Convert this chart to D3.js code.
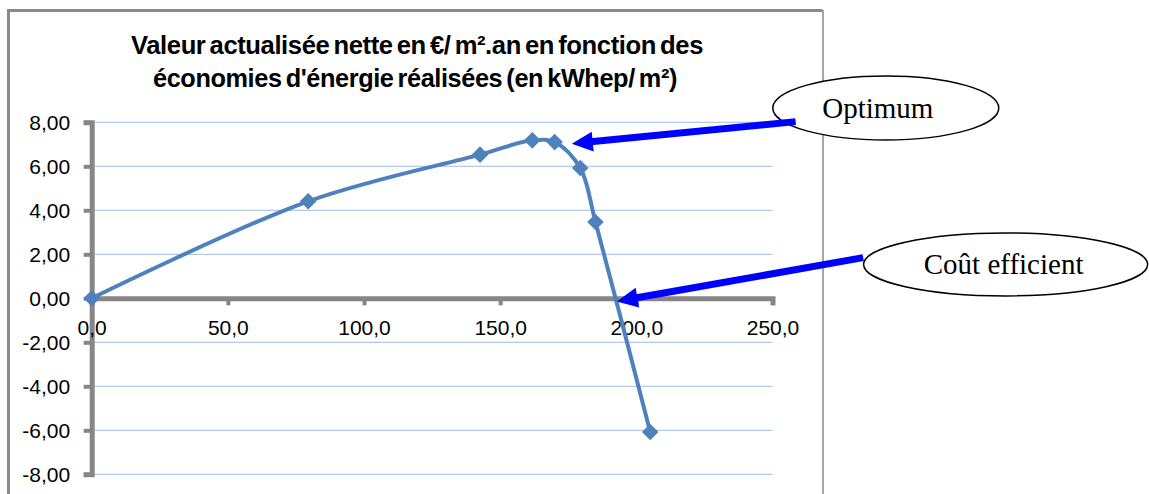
<!DOCTYPE html>
<html>
<head>
<meta charset="utf-8">
<script src="https://cdn.jsdelivr.net/npm/d3@7"></script>
<style>
  body { margin: 0; background: #fff; }
  svg { display: block; }
</style>
</head>
<body>
<div id="main"></div>
<script>
// values
const energySavings = [0, 79.5, 142.6, 161.8, 170.0, 179.4, 185.0, 205.1];
const netValue = [0, 4.41, 6.53, 7.18, 7.10, 5.92, 3.47, -6.08];
const xTicks = [0, 50, 100, 150, 200, 250];
const yTicks = [-8, -6, -4, -2, 0, 2, 4, 6, 8];
const titleLines = [
  "Valeur actualisée nette en €/ m².an en fonction des",
  "économies d'énergie réalisées (en kWhep/ m²)"
];
// callouts, in data units
const calloutLabels = ["Optimum", "Coût efficient"];
const calloutCenterX = [291.6, 335.6];
const calloutCenterY = [8.65, 1.54];
const arrowFromX = [258.5, 283.3];
const arrowFromY = [8.03, 1.85];
const arrowToX = [176.3, 192.8];
const arrowToY = [7.03, -0.14];

const W = 1149, H = 494;
const blue = "#4F81BD", gray = "#868686", grid = "#B4C8E8";

const fr = d3.formatLocale({ decimal: ",", thousands: " ", grouping: [3], currency: ["", " €"], minus: "-" });

const svg = d3.select("#main").append("svg")
  .attr("width", W)
  .attr("height", H);

// chart frame (bottom runs off the picture)
svg.append("path")
  .attr("d", "M8.5,500 V10.5 H822.5")
  .attr("fill", "none")
  .attr("stroke", "#8a8a8a")
  .attr("stroke-width", 3);
svg.append("line")
  .attr("x1", 823).attr("x2", 823)
  .attr("y1", 10).attr("y2", 500)
  .attr("stroke", "#8a8a8a")
  .attr("stroke-width", 1.5);

// title
const titleWidths = [572, 524];
const titleCenters = [417, 415];
const titleBase = [54, 86.5];
svg.selectAll(".title")
  .data(titleLines)
  .enter().append("text")
  .attr("class", "title")
  .attr("x", (d, i) => titleCenters[i])
  .attr("y", (d, i) => titleBase[i])
  .attr("text-anchor", "middle")
  .attr("textLength", (d, i) => titleWidths[i])
  .attr("lengthAdjust", "spacingAndGlyphs")
  .style("font-family", "'Liberation Sans', Arial, sans-serif")
  .style("font-weight", "bold")
  .style("font-size", "25px")
  .style("letter-spacing", "-0.4px")
  .style("word-spacing", "-2.5px")
  .text(d => d);

const x = d3.scaleLinear().domain([0, 250]).range([91.7, 772.5]);
const y = d3.scaleLinear().domain([-8, 8]).range([474.3, 122.3]);

// gridlines
svg.append("g")
  .selectAll("line")
  .data(yTicks.filter(d => d !== 0))
  .enter().append("line")
  .attr("x1", x(0)).attr("x2", x(250))
  .attr("y1", d => y(d)).attr("y2", d => y(d))
  .attr("stroke", grid)
  .attr("stroke-width", 1.2);

// y axis
const yAxis = svg.append("g")
  .attr("transform", "translate(" + x(0) + ",0)")
  .call(d3.axisLeft(y).tickValues(yTicks).tickSize(8).tickPadding(13.5).tickFormat(fr.format(".2f")));

// x axis, on the zero line
const xAxis = svg.append("g")
  .attr("transform", "translate(0," + y(0) + ")")
  .call(d3.axisBottom(x).tickValues(xTicks).tickSize(7).tickSizeOuter(7).tickPadding(15).tickFormat(fr.format(".1f")));

[yAxis, xAxis].forEach(a => {
  a.select(".domain").attr("stroke", gray).attr("stroke-width", 5);
  a.selectAll(".tick line").attr("stroke", gray).attr("stroke-width", 4);
  a.selectAll(".tick text")
    .attr("fill", "#000")
    .style("font-family", "'Liberation Sans', Arial, sans-serif")
    .style("font-size", "21px");
});
xAxis.selectAll(".tick").filter(d => d === 0).select("line").remove();
yAxis.selectAll(".tick text").attr("dy", "0.34em");

// series
const pts = energySavings.map((d, i) => [d, netValue[i]]);
const line = d3.line()
  .x(d => x(d[0]))
  .y(d => y(d[1]))
  .curve(d3.curveCatmullRom.alpha(0.5));

svg.append("path")
  .datum(pts)
  .attr("d", line)
  .attr("fill", "none")
  .attr("stroke", blue)
  .attr("stroke-width", 4)
  .attr("stroke-linejoin", "round");

svg.append("g")
  .selectAll("path")
  .data(pts)
  .enter().append("path")
  .attr("transform", d => "translate(" + x(d[0]) + "," + y(d[1]) + ")")
  .attr("d", d3.symbol(d3.symbolDiamond2, 175))
  .attr("fill", blue);

// callouts
const callouts = calloutLabels.map((label, i) => ({
  label: label,
  cx: x(calloutCenterX[i]),
  cy: y(calloutCenterY[i]),
  rx: [113, 142][i],
  ry: [32, 31.5][i],
  dx: [-8, -2][i],
  fx: x(arrowFromX[i]),
  fy: y(arrowFromY[i]),
  tx: x(arrowToX[i]),
  ty: y(arrowToY[i])
}));

const co = svg.append("g").selectAll("g")
  .data(callouts)
  .enter().append("g");

co.append("ellipse")
  .attr("cx", d => d.cx)
  .attr("cy", d => d.cy)
  .attr("rx", d => d.rx)
  .attr("ry", d => d.ry)
  .attr("fill", "#fff")
  .attr("stroke", "#000")
  .attr("stroke-width", 1.5);

co.append("text")
  .attr("x", d => d.cx + d.dx)
  .attr("y", d => d.cy + 10)
  .attr("text-anchor", "middle")
  .style("font-family", "'Liberation Serif', 'Times New Roman', serif")
  .style("font-size", "29px")
  .text(d => d.label);

// arrows: thick blue shaft plus a triangular head
const headLen = 21, headHalf = 10;
co.each(function(d) {
  const g = d3.select(this);
  const ang = Math.atan2(d.ty - d.fy, d.tx - d.fx);
  const ux = Math.cos(ang), uy = Math.sin(ang);
  const bx = d.tx - ux * headLen, by = d.ty - uy * headLen;
  g.append("line")
    .attr("x1", d.fx).attr("y1", d.fy)
    .attr("x2", bx + ux * 2).attr("y2", by + uy * 2)
    .attr("stroke", "#0000FF")
    .attr("stroke-width", 7);
  g.append("path")
    .attr("d", "M" + d.tx + "," + d.ty +
      "L" + (bx - uy * headHalf) + "," + (by + ux * headHalf) +
      "L" + (bx + uy * headHalf) + "," + (by - ux * headHalf) + "Z")
    .attr("fill", "#0000FF");
});
</script>
</body>
</html>
